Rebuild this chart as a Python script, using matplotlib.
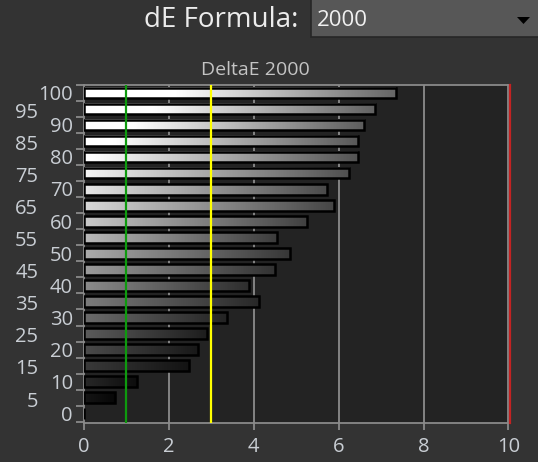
import numpy as np
import matplotlib
matplotlib.use("Agg")
import matplotlib.pyplot as plt
from matplotlib.patches import FancyBboxPatch, Polygon
import matplotlib.transforms as mtransforms

plt.rcParams['font.family'] = ['Open Sans', 'DejaVu Sans']

# stimulus levels (%) and measured DeltaE 2000
levels = [0, 5, 10, 15, 20, 25, 30, 35, 40, 45, 50,
          55, 60, 65, 70, 75, 80, 85, 90, 95, 100]
delta_e = [0.0, 0.72, 1.24, 2.48, 2.69, 2.89, 3.37, 4.12, 3.89, 4.50, 4.85,
           4.55, 5.25, 5.89, 5.73, 6.25, 6.45, 6.45, 6.60, 6.86, 7.35]
x_ticks = [0, 2, 4, 6, 8, 10]
thresholds = [1, 3]          # green / yellow reference lines
threshold_colors = ['#0e9a0e', '#ffff00']

fig = plt.figure(figsize=(5.38, 4.62), dpi=100, facecolor='#333333')
ax = fig.add_axes([0.1561, 0.0844, 0.789, 0.7316], facecolor='#232323')

bar_h = 3.3
for lvl, de in zip(levels, delta_e):
    if de <= 0:
        continue
    base = (lvl / 100.0) ** 0.9
    t = np.linspace(0, 1, 256)
    shade = np.clip(base * (1.25 - 0.85 * t), 0, 1)
    grad = np.dstack([shade, shade, shade])
    ax.imshow(grad, extent=(0, de, lvl - bar_h / 2, lvl + bar_h / 2),
              aspect='auto', interpolation='bilinear', zorder=2)
ax.barh(levels, delta_e, height=bar_h, facecolor='none',
        edgecolor='black', linewidth=1.8, zorder=3)

# grid behind bars
for gx in x_ticks[1:-1]:
    ax.axvline(gx, color='#8c8c8c', lw=1.3, zorder=1)
for tx, tc in zip(thresholds, threshold_colors):
    ax.axvline(tx, color=tc, lw=1.6, zorder=4)
ax.axvline(10.04, color='#c42222', lw=1.6, zorder=4, clip_on=False)

ax.set_xlim(0, 10)
ax.set_ylim(-2.9, 102.1)

for s in ax.spines.values():
    s.set_color('#8a8a8a')
    s.set_linewidth(1.3)

ax.set_xticks(x_ticks)
ax.set_xticklabels([])
ax.tick_params(axis='x', colors='#8a8a8a', length=5, width=1.3)
ax.set_yticks(np.arange(-2.5, 103, 5))
ax.set_yticklabels([])
ax.tick_params(axis='y', colors='#8a8a8a', length=6, width=1.3)

# x labels centred about 24 px under the axis
xtrans = mtransforms.blended_transform_factory(ax.transData, fig.transFigure)
for xv in x_ticks:
    ax.text(xv, 1 - 447 / 462, str(xv), transform=xtrans, ha='center',
            va='center', fontsize=14.5, color='#c9ced4')

# two columns of y labels
trans = mtransforms.blended_transform_factory(ax.transAxes, ax.transData)
for lvl in levels:
    if lvl % 10 == 0:
        ax.text(-0.026, lvl - 0.7, str(lvl), transform=trans, ha='right',
                va='center', fontsize=14.5, color='#c9ced4')
    else:
        ax.text(-0.108, lvl - 1.2, str(lvl), transform=trans, ha='right',
                va='center', fontsize=14.5, color='#c9ced4')

fig.text(255.5 / 538, 1 - 70 / 462, 'DeltaE 2000', ha='center', va='center',
         fontsize=14, color='#c4c4c4')

# header: formula selector
fig.text(298 / 538, 1 - 20 / 462, 'dE Formula:', ha='right', va='center',
         fontsize=20, color='#ececec')
box = FancyBboxPatch((311 / 538, 1 - 36.5 / 462), 240 / 538, 40 / 462,
                     boxstyle='square,pad=0', transform=fig.transFigure,
                     facecolor='#575757', edgecolor='#262626', lw=1.2)
fig.patches.append(box)
fig.text(317 / 538, 1 - 21 / 462, '2000', ha='left', va='center',
         fontsize=16, color='#f0f0f0')
tri = Polygon([[517 / 538, 1 - 17 / 462], [530 / 538, 1 - 17 / 462],
               [523.5 / 538, 1 - 24 / 462]], closed=True,
              transform=fig.transFigure, facecolor='black', edgecolor='none')
fig.patches.append(tri)

fig.savefig('out.png', dpi=100, facecolor=fig.get_facecolor())
